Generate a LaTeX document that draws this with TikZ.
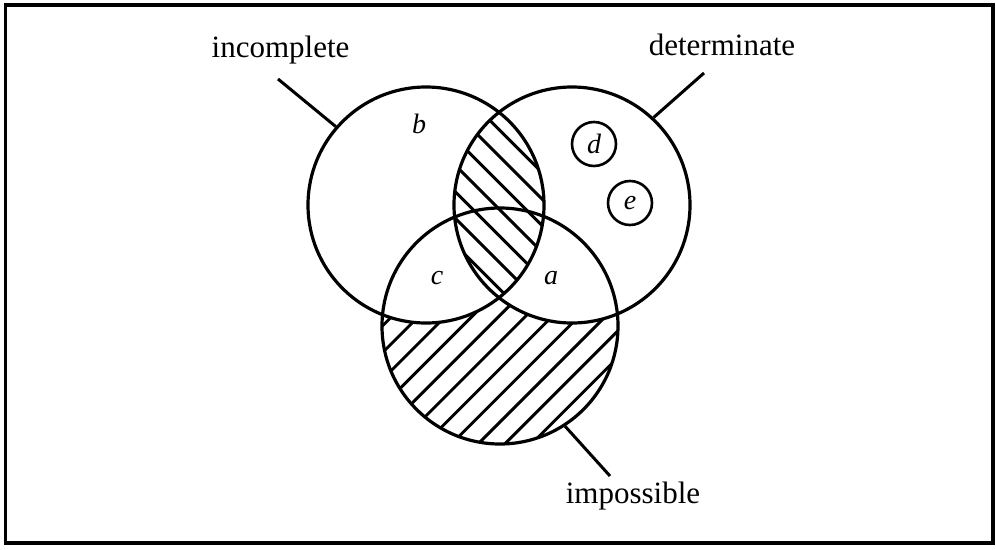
\documentclass[tikz,border=0pt]{standalone}
\usepackage{fontspec}
\setmainfont{Liberation Serif}
\begin{document}
\begin{tikzpicture}[x=1pt, y=-1pt,
  setc/.style  = {draw, circle, line width=3.2pt, inner sep=0pt, minimum size=236pt},
  elem/.style  = {draw, circle, line width=2.6pt, inner sep=0pt, minimum size=44pt,
                  font=\fontsize{28}{32}\selectfont\itshape},
  hatch/.style = {line width=2.9pt},
  lead/.style  = {line width=3pt},
  setname/.style = {font=\fontsize{31}{36}\selectfont, anchor=base},
  region/.style  = {font=\fontsize{28}{32}\selectfont\itshape},
]
\useasboundingbox (0,0) rectangle (996,549);

% centres of the three sets
\coordinate (ci) at (426,205);
\coordinate (cd) at (572,205);
\coordinate (cp) at (500,326);

% impossible, outside the other two: hatched
\begin{scope}
  \clip (cp) circle[radius=118pt];
  \foreach \s in {655,681.7,...,1010}
    \draw[hatch] (\s-460,460) -- (\s-190,190);
\end{scope}
\fill[white] (ci) circle[radius=118pt];
\fill[white] (cd) circle[radius=118pt];

% incomplete and determinate: hatched
\begin{scope}
  \clip (ci) circle[radius=118pt];
  \clip (cd) circle[radius=118pt];
  \foreach \t in {-422.5,-396,...,-160}
    \draw[hatch] (400,400+\t) -- (600,600+\t);
\end{scope}

\node[setc] (incomplete) at (ci) {};
\node[setc] (determinate) at (cd) {};
\node[setc] (impossible) at (cp) {};

\node[elem] (d) at (594,144) {d};
\node[elem] (e) at (630,203) {e};

\node[region] (b) at (419,124) {b};
\node[region] (c) at (437,278) {c};
\node[region] (a) at (551,278) {a};

% labels and leaders
\node[setname] (incl) at (280.5,57) {incomplete};
\node[setname] (detl) at (722,55) {determinate};
\node[setname] (impl) at (633,503) {impossible};
\coordinate (incend) at (278,79);
\coordinate (detend) at (704,73);
\coordinate (impend) at (610,476);
\draw[lead] (incomplete.139) -- (incend);
\draw[lead] (determinate.47) -- (detend);
\draw[lead] (impossible.303) -- (impend);

% frame
\draw[line width=3.2pt] (5.5,5) rectangle (993,543);
\end{tikzpicture}
\end{document}
